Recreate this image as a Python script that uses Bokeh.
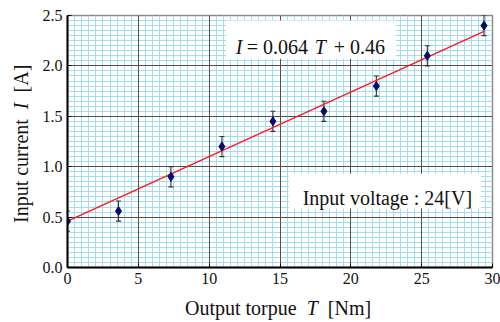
from bokeh.plotting import figure
from bokeh.models import (ColumnDataSource, Whisker, SingleIntervalTicker, Label,
                          BoxAnnotation, Range1d, TeeHead, PrintfTickFormatter,
                          Grid, Div)
from bokeh.layouts import column
from bokeh.embed import file_html
from bokeh.resources import INLINE

# ---- data ----
torque = [0.0, 3.6, 7.3, 10.9, 14.5, 18.1, 21.8, 25.4, 29.4]
current = [0.46, 0.56, 0.90, 1.20, 1.45, 1.55, 1.80, 2.10, 2.40]
error = [0.1, 0.1, 0.1, 0.1, 0.1, 0.1, 0.1, 0.1, 0.1]
fit_slope = 0.064
fit_intercept = 0.46
fit_range = [0.0, 29.4]

SERIF = "Liberation Serif"

p = figure(width=500, height=290, output_backend="svg", toolbar_location=None,
           x_range=Range1d(0, 30), y_range=Range1d(0, 2.5),
           min_border_left=67, min_border_right=8, min_border_top=15,
           min_border_bottom=23)
p.background_fill_color = "white"
p.border_fill_color = "white"
p.outline_line_color = "#8a8a8a"
p.outline_line_width = 1.5

xt = SingleIntervalTicker(interval=5, num_minor_ticks=10)
yt = SingleIntervalTicker(interval=0.5, num_minor_ticks=10)
p.xaxis.ticker = xt
p.yaxis.ticker = yt
p.yaxis.formatter = PrintfTickFormatter(format="%.1f")

# minor grid first, major grid on top of it
for g in (p.xgrid, p.ygrid):
    g.grid_line_color = None
    g.minor_grid_line_color = "#a3dcef"
    g.minor_grid_line_width = 1
    g.level = "underlay"
for dim, tk in ((0, xt), (1, yt)):
    p.add_layout(Grid(dimension=dim, ticker=tk, grid_line_color="#505050",
                      grid_line_width=1, level="underlay"))

for ax in (p.xaxis, p.yaxis):
    ax.axis_line_color = "black"
    ax.axis_line_width = 2
    ax.major_tick_in = 4
    ax.major_tick_out = 0
    ax.major_tick_line_color = "black"
    ax.minor_tick_line_color = None
    ax.major_label_text_font = SERIF
    ax.major_label_text_font_size = "16px"
    ax.major_label_text_color = "#111111"
    ax.axis_label = None
p.xaxis.major_label_standoff = 1
p.yaxis.major_label_standoff = 1

# text boxes
p.add_layout(BoxAnnotation(left=11.17, right=23.18, bottom=2.07, top=2.45,
                           fill_color="white", fill_alpha=1, line_color=None,
                           level="underlay"))
p.add_layout(BoxAnnotation(left=15.62, right=29.19, bottom=0.585, top=0.93,
                           fill_color="white", fill_alpha=1, line_color=None,
                           level="underlay"))

# fit line
fx = fit_range
fy = [fit_slope * t + fit_intercept for t in fx]
p.line(fx, fy, line_color="#ff1a1a", line_width=1.4)

src = ColumnDataSource(dict(
    x=torque, y=current,
    lo=[c - e for c, e in zip(current, error)],
    hi=[c + e for c, e in zip(current, error)]))
p.add_layout(Whisker(source=src, base="x", lower="lo", upper="hi",
                     line_color="#333333", line_width=1.1,
                     upper_head=TeeHead(size=5, line_color="#333333", line_width=1.1),
                     lower_head=TeeHead(size=5, line_color="#333333", line_width=1.1)))
p.scatter("x", "y", source=src, marker="diamond", size=9,
          fill_color="#0a0a6e", line_color="#0a0a6e")

def lab(text, x, y, italic=False, size="20px"):
    p.add_layout(Label(text=text, x=x, y=y, text_font=SERIF,
                       text_font_size=size,
                       text_font_style="italic" if italic else "normal",
                       text_color="#111111", text_baseline="alphabetic",
                       text_align="left"))

# equation
lab("I", 11.87, 2.19, italic=True)
lab("= 0.064", 12.65, 2.19)
lab("T", 17.45, 2.19, italic=True)
lab("+ 0.46", 18.8, 2.19)
# voltage
lab("Input voltage : 24[V]", 16.6, 0.685)

# axis titles (mixed upright / italic text) in an HTML strip below the plot;
# the rotated y title is shifted up beside the plot frame
FONT = "font-family: 'Liberation Serif', serif; font-size: 20px; line-height: 20px; color: #111;"
titles = Div(width=500, height=32, text=(
    f'<div style="{FONT} position: relative; height: 32px;">'
    '<div style="position: absolute; left: 0; top: 0; white-space: nowrap; '
    'transform-origin: 0 0; transform: translate(180px, 3px);">'
    'Output torpue&nbsp;&nbsp;<i>T</i>&nbsp;&nbsp;[Nm]</div>'
    '<div style="position: absolute; left: 0; top: 0; white-space: nowrap; '
    'transform-origin: 0 0; transform: translate(6px, -72px) rotate(-90deg);">'
    'Input current&nbsp;&nbsp;<i>I</i>&nbsp;&nbsp;[A]</div>'
    '</div>'))

layout = column(p, titles, spacing=0)

open("out.html", "w").write(file_html(layout, INLINE))
